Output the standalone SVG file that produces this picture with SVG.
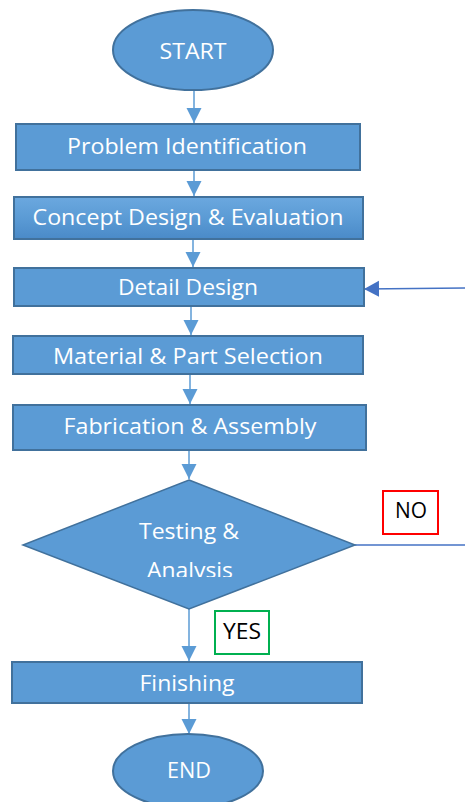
<svg xmlns="http://www.w3.org/2000/svg" width="465" height="802" viewBox="0 0 465 802">
<style>
.box{fill:#5B9BD5;stroke:#41719C;stroke-width:2}
.grad{fill:url(#g1);stroke:#41719C;stroke-width:2}
.lbl{font-family:"Open Sans","Noto Sans","DejaVu Sans",sans-serif;font-size:22px;fill:#FFFFFF;text-anchor:middle}
.tag{font-family:"Open Sans","Noto Sans","DejaVu Sans",sans-serif;font-size:21px;fill:#000000;text-anchor:middle}
.conn{stroke:#5B9BD5;stroke-width:1.5;fill:none}
.conn2{stroke:#4472C4;stroke-width:1.3;fill:none}
</style>
<defs>
<linearGradient id="g1" x1="0" y1="0" x2="0" y2="1">
<stop offset="0" stop-color="#6BA8DF"/>
<stop offset="0.5" stop-color="#5B9BD5"/>
<stop offset="1" stop-color="#4A8AC8"/>
</linearGradient>
<marker id="ah" markerUnits="userSpaceOnUse" markerWidth="16" markerHeight="16" refX="15" refY="7.5" orient="auto">
<path d="M0,0 L15,7.5 L0,15 z" fill="#5B9BD5"/>
</marker>
<marker id="ah2" markerUnits="userSpaceOnUse" markerWidth="16" markerHeight="17" refX="15" refY="8" orient="auto">
<path d="M0,0 L15,8 L0,16 z" fill="#4472C4"/>
</marker>
<clipPath id="dclip"><rect x="0" y="470" width="465" height="107"/></clipPath>
</defs>
<g id="connectors">
<line class="conn" x1="194" y1="91" x2="194" y2="123" marker-end="url(#ah)"/>
<line class="conn" x1="194" y1="170" x2="194" y2="196" marker-end="url(#ah)"/>
<line class="conn" x1="193" y1="239" x2="193" y2="267" marker-end="url(#ah)"/>
<line class="conn" x1="191" y1="306" x2="191" y2="335" marker-end="url(#ah)"/>
<line class="conn" x1="190" y1="374" x2="190" y2="404" marker-end="url(#ah)"/>
<line class="conn" x1="189" y1="450" x2="189" y2="479" marker-end="url(#ah)"/>
<line class="conn" x1="189" y1="609" x2="189" y2="661" marker-end="url(#ah)"/>
<line class="conn" x1="189" y1="703" x2="189" y2="734" marker-end="url(#ah)"/>
<line class="conn2" x1="355" y1="545" x2="465" y2="545"/>
<line class="conn2" x1="465" y1="288" x2="364" y2="289" marker-end="url(#ah2)"/>
</g>
<g id="start">
<ellipse class="box" cx="193" cy="50" rx="80" ry="40"/>
<text class="lbl" x="193" y="59" font-size="23" textLength="67" lengthAdjust="spacingAndGlyphs">START</text>
</g>
<g id="problem">
<rect class="box" x="16" y="124" width="344" height="46"/>
<text class="lbl" x="187" y="154" textLength="240" lengthAdjust="spacingAndGlyphs">Problem Identification</text>
</g>
<g id="concept">
<rect class="grad" x="14" y="197" width="349" height="42"/>
<text class="lbl" x="188" y="225" textLength="311" lengthAdjust="spacingAndGlyphs">Concept Design &amp; Evaluation</text>
</g>
<g id="detail">
<rect class="box" x="14" y="268" width="350" height="38"/>
<text class="lbl" x="188" y="295" textLength="140" lengthAdjust="spacingAndGlyphs">Detail Design</text>
</g>
<g id="material">
<rect class="box" x="13" y="336" width="350" height="38"/>
<text class="lbl" x="188" y="364" textLength="270" lengthAdjust="spacingAndGlyphs">Material &amp; Part Selection</text>
</g>
<g id="fabrication">
<rect class="box" x="13" y="405" width="353" height="45"/>
<text class="lbl" x="190" y="434" textLength="253" lengthAdjust="spacingAndGlyphs">Fabrication &amp; Assembly</text>
</g>
<g id="testing">
<polygon class="box" points="189,480 355,545 189,609 23,545" style="stroke-width:1.5"/>
<text class="lbl" x="189" y="539" textLength="100" lengthAdjust="spacingAndGlyphs">Testing &amp;</text>
<text class="lbl" x="190" y="578" textLength="86" lengthAdjust="spacingAndGlyphs" clip-path="url(#dclip)">Analysis</text>
</g>
<g id="no">
<rect x="383" y="491" width="55" height="43" fill="#FFFFFF" stroke="#FF0000" stroke-width="2"/>
<text class="tag" x="411" y="518" textLength="32" lengthAdjust="spacingAndGlyphs">NO</text>
</g>
<g id="yes">
<rect x="215" y="611" width="54" height="43" fill="#FFFFFF" stroke="#00B050" stroke-width="2"/>
<text class="tag" x="242" y="639" textLength="38" lengthAdjust="spacingAndGlyphs">YES</text>
</g>
<g id="finishing">
<rect class="box" x="12" y="662" width="350" height="41"/>
<text class="lbl" x="187" y="691" textLength="95" lengthAdjust="spacingAndGlyphs">Finishing</text>
</g>
<g id="end">
<ellipse class="box" cx="188" cy="771" rx="75" ry="37"/>
<text class="lbl" x="189" y="778" textLength="44" lengthAdjust="spacingAndGlyphs">END</text>
</g>
</svg>
